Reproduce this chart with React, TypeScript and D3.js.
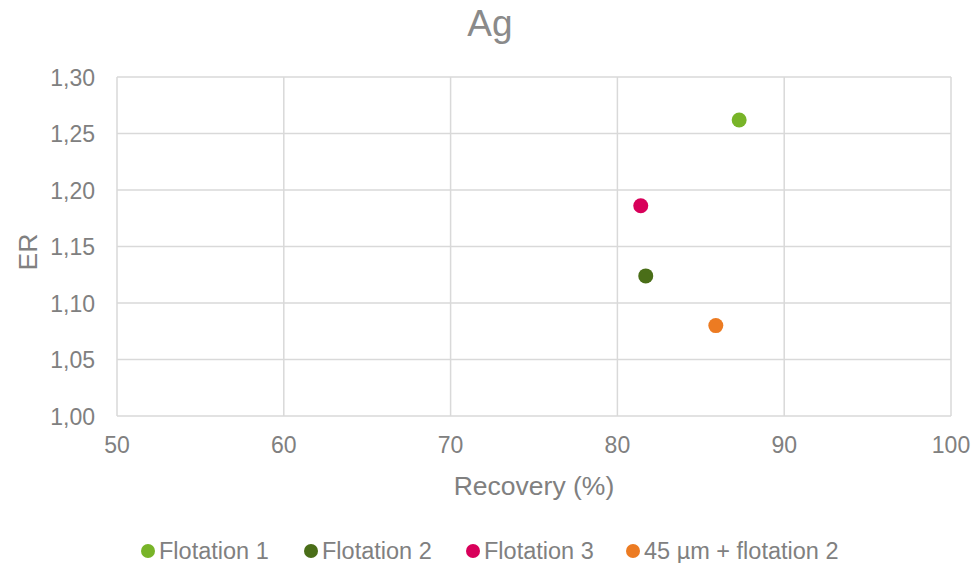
import React from "react";
import * as d3 from "d3";

const seriesNames = ["Flotation 1", "Flotation 2", "Flotation 3", "45 µm + flotation 2"];
const recovery = [87.3, 81.7, 81.4, 85.9];
const erValues = [1.262, 1.124, 1.186, 1.080];
const colors = ["#78b428", "#4a6e18", "#d8005a", "#ec7b22"];
const xTicks = [50, 60, 70, 80, 90, 100];
const yTicks = [1.0, 1.05, 1.1, 1.15, 1.2, 1.25, 1.3];
const legendX = [148, 311, 473, 633];

export default function App() {
  const W = 980, H = 563;
  const left = 117, right = 951, top = 77, bottom = 416;
  const x = d3.scaleLinear().domain([50, 100]).range([left, right]);
  const y = d3.scaleLinear().domain([1.0, 1.3]).range([bottom, top]);
  const font = "'Liberation Sans', Arial, sans-serif";
  const gray = "#808080";
  const fmt = (v: number) => v.toFixed(2).replace(".", ",");
  return (
    <svg width={W} height={H} style={{ position: "absolute", left: 0, top: 0, background: "#fff" }} fontFamily={font}>
      <text x={490} y={36} textAnchor="middle" fontSize={37} fill="#8a8a8a">Ag</text>
      {yTicks.map((t) => (
        <g key={"y" + t}>
          <line x1={left} x2={right} y1={y(t)} y2={y(t)} stroke="#d9d9d9" strokeWidth={1.5} />
          <text x={left - 22} y={y(t) + 8.5} textAnchor="end" fontSize={23} fill={gray}>{fmt(t)}</text>
        </g>
      ))}
      {xTicks.map((t) => (
        <g key={"x" + t}>
          <line x1={x(t)} x2={x(t)} y1={top} y2={bottom} stroke="#d9d9d9" strokeWidth={1.5} />
          <text x={x(t)} y={bottom + 37} textAnchor="middle" fontSize={23} fill={gray}>{t}</text>
        </g>
      ))}
      <text x={534} y={495} textAnchor="middle" fontSize={26.5} fill={gray}>Recovery (%)</text>
      <text transform={`translate(37,252) rotate(-90)`} textAnchor="middle" fontSize={26.5} fill={gray}>ER</text>
      {seriesNames.map((n, i) => (
        <circle key={n} cx={x(recovery[i])} cy={y(erValues[i])} r={7.5} fill={colors[i]} />
      ))}
      {seriesNames.map((n, i) => (
        <g key={"l" + n}>
          <circle cx={legendX[i]} cy={551} r={7} fill={colors[i]} />
          <text x={legendX[i] + 11} y={559} fontSize={23.5} fill={gray}>{n}</text>
        </g>
      ))}
    </svg>
  );
}
